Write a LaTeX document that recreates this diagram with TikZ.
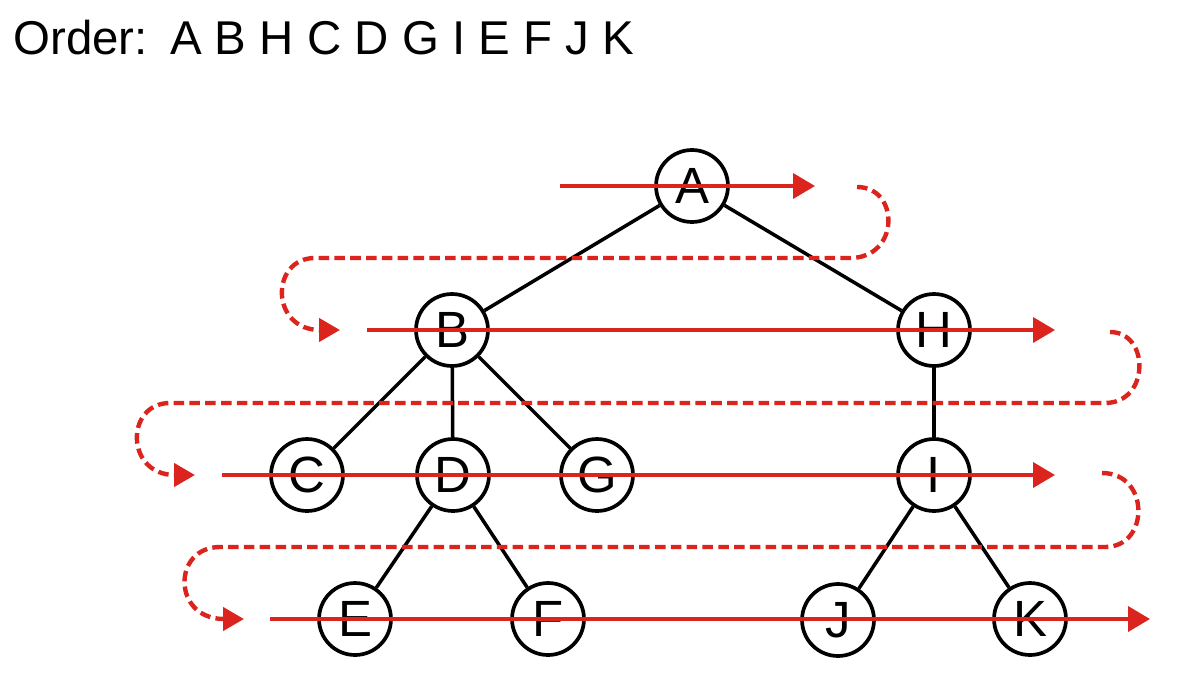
\documentclass[tikz,border=0pt]{standalone}
\usepackage{fontspec}
\setmainfont{Liberation Sans}
\usetikzlibrary{arrows.meta}

\definecolor{walkred}{RGB}{219,36,30}

\tikzset{
    vertex/.style={circle, draw=black, line width=2.1pt, fill=white, inner sep=0pt,
        minimum size=1.44cm, font=\fontsize{29}{32}\selectfont},
    branch/.style={black, line width=2pt},
    sweep/.style={walkred, line width=2.2pt, -{Triangle[length=0.44cm, width=0.5cm]}},
    wrap/.style={walkred, line width=2.5pt, dash pattern=on 6pt off 3pt,
        -{Triangle[length=0.42cm, width=0.46cm]}}
}

\begin{document}
\begin{tikzpicture}[x=0.02cm, y=-0.02cm]
    \useasboundingbox (0,0) rectangle (1202,696);

    \node[anchor=base west, inner sep=0pt, font=\fontsize{27}{30}\selectfont] (order) at (13,55)
        {Order:\hspace{0.1em} A B H C D G I E F J K};

    % tree
    \node[vertex] (A) at (692,186) {A};
    \node[vertex] (B) at (452,330) {B};
    \node[vertex] (H) at (934,330) {H};
    \node[vertex] (C) at (307,475) {C};
    \node[vertex] (D) at (453,475) {D};
    \node[vertex] (G) at (597,475) {G};
    \node[vertex] (I) at (934,475) {I};
    \node[vertex] (E) at (355,619) {E};
    \node[vertex] (F) at (548,619) {F};
    \node[vertex] (J) at (838,620) {J};
    \node[vertex] (K) at (1030,619) {K};

    \draw[branch] (A) -- (B);
    \draw[branch] (A) -- (H);
    \draw[branch] (B) -- (C);
    \draw[branch] (B) -- (D);
    \draw[branch] (B) -- (G);
    \draw[branch] (H) -- (I);
    \draw[branch] (D) -- (E);
    \draw[branch] (D) -- (F);
    \draw[branch] (I) -- (J);
    \draw[branch] (I) -- (K);

    % level by level sweeps
    \coordinate (s1) at (560,186);  \coordinate (t1) at (815,186);
    \coordinate (s2) at (367,330);  \coordinate (t2) at (1055,330);
    \coordinate (s3) at (222,475);  \coordinate (t3) at (1055,475);
    \coordinate (s4) at (270,619);  \coordinate (t4) at (1150,619);

    \draw[sweep] (s1) -- (t1); %level 0
    \draw[sweep] (s2) -- (t2); %level 1
    \draw[sweep] (s3) -- (t3); %level 2
    \draw[sweep] (s4) -- (t4); %level 3

    % carriage returns
    \coordinate (r1) at (857,187);  \coordinate (e1) at (340,330);
    \coordinate (r2) at (1110,332); \coordinate (e2) at (195,475);
    \coordinate (r3) at (1102,473); \coordinate (e3) at (244,619);

    \draw[wrap] (r1) .. controls (900,187) and (900,258) .. (850,258) -- (315,258)
        .. controls (270,258) and (270,330) .. (e1);
    \draw[wrap] (r2) .. controls (1150,332) and (1150,403) .. (1105,403) -- (170,403)
        .. controls (125,403) and (125,475) .. (e2);
    \draw[wrap] (r3) .. controls (1150,473) and (1150,547) .. (1105,547) -- (220,547)
        .. controls (172,547) and (172,619) .. (e3);
\end{tikzpicture}
\end{document}
